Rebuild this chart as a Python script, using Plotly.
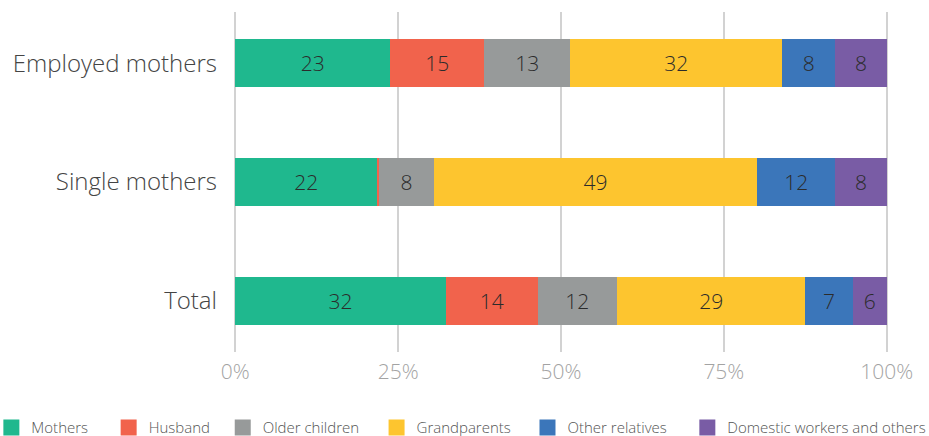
import plotly.graph_objects as go

categories = ["Employed mothers", "Single mothers", "Total"]
series_names = ["Mothers", "Husband", "Older children", "Grandparents",
                "Other relatives", "Domestic workers and others"]
colors = ["#1fb88e", "#f1634c", "#979a9a", "#fdc52f", "#3b76ba", "#795ca5"]

# bar shares (percent of each bar)
shares = {
    "Mothers":                     [23.8, 21.8, 32.3],
    "Husband":                     [14.4, 0.3, 14.1],
    "Older children":              [13.2, 8.4, 12.2],
    "Grandparents":                [32.6, 49.6, 28.9],
    "Other relatives":             [8.1, 12.0, 7.3],
    "Domestic workers and others": [7.9, 7.9, 5.2],
}
# printed labels
labels = {
    "Mothers":                     ["23", "22", "32"],
    "Husband":                     ["15", "", "14"],
    "Older children":              ["13", "8", "12"],
    "Grandparents":                ["32", "49", "29"],
    "Other relatives":             ["8", "12", "7"],
    "Domestic workers and others": ["8", "8", "6"],
}
x_ticks = [0, 25, 50, 75, 100]
x_ticklabels = ["0%", "25%", "50%", "75%", "100%"]

# extra spacing after each legend entry (non-breaking spaces) and legend group
legend_pad = [4, 2, 0, 3, 4, 0]
legend_ref = ["legend", "legend", "legend", "legend2", "legend2", "legend2"]

FONT = "Open Sans"
fig = go.Figure()
for name, col, pad, lg in zip(series_names, colors, legend_pad, legend_ref):
    fig.add_trace(go.Bar(
        y=categories, x=shares[name], orientation="h", name=name,
        marker=dict(color=col, line=dict(width=0)),
        text=labels[name], textposition="inside", insidetextanchor="middle",
        textangle=0,
        textfont=dict(family=FONT, size=21, color="#2b2b2b", weight=300),
        showlegend=False,
    ))
    fig.add_trace(go.Scatter(
        x=[None], y=[None], mode="markers", name=name + "\u00a0" * pad,
        marker=dict(symbol="square", size=17, color=col),
        showlegend=True, legend=lg,
    ))

legend_common = dict(orientation="h", xref="paper", yref="paper",
                     y=-0.174, xanchor="left", yanchor="top",
                     traceorder="normal",
                     font=dict(family=FONT, size=15, color="#555555", weight=300),
                     itemclick=False, tracegroupgap=0)

fig.update_layout(
    width=929, height=436,
    barmode="stack", bargap=0.6,
    plot_bgcolor="white", paper_bgcolor="white",
    margin=dict(l=234, r=41, t=12, b=84, autoexpand=False),
    uniformtext=dict(minsize=8, mode="show"),
    legend=dict(x=-0.371, **legend_common),
    legend2=dict(x=0.218, **legend_common),
    xaxis=dict(range=[-0.2, 100.2], tickvals=x_ticks, ticktext=x_ticklabels,
               showgrid=True, gridcolor="#d2d2d2", gridwidth=2,
               zeroline=False, showline=False,
               tickfont=dict(family=FONT, size=21, color="#a3a3a3", weight=300),
               ticks="", ticklabelstandoff=5, fixedrange=True),
    yaxis=dict(categoryorder="array", categoryarray=categories,
               range=[2.43, -0.43], autorange=False,
               showgrid=False, zeroline=False, showline=False,
               tickfont=dict(family=FONT, size=24, color="#444444", weight=300),
               ticks="", ticklabelstandoff=16, fixedrange=True),
)
fig.write_html("out.html")
